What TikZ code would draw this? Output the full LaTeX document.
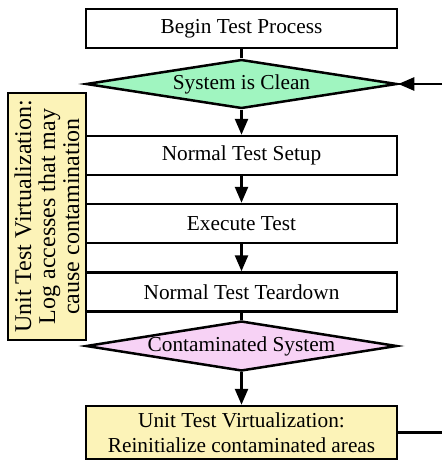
\documentclass[tikz,border=0pt]{standalone}
\usepackage{fontspec}
\setmainfont{Liberation Serif}
\usetikzlibrary{shapes.geometric,arrows.meta}
\definecolor{cleangreen}{HTML}{A0F5C0}
\definecolor{dirtypink}{HTML}{F7D2F5}
\definecolor{virtyellow}{HTML}{FCF3B8}
\tikzset{
  stepbox/.style={draw, line width=2.5pt, minimum width=311pt, minimum height=39pt, inner sep=0pt},
  testdiamond/.style={draw, diamond, line width=2.5pt, aspect=6.3, inner sep=0pt, minimum width=311pt, minimum height=49pt},
  flow/.style={line width=2.5pt, -{Triangle[length=16pt,width=13pt]}},
  plainline/.style={line width=2.5pt},
}
\begin{document}
\begin{tikzpicture}[x=1pt, y=-1pt, font=\fontsize{21.3}{25}\selectfont]
  \useasboundingbox (0,0) rectangle (442,460);
  % main column
  \node[stepbox] (begin) at (241.5,28.5) {Begin Test Process};
  \node[testdiamond, fill=cleangreen] (clean) at (241.5,84) {System is Clean};
  \node[stepbox] (setup) at (241.5,155.5) {Normal Test Setup};
  \node[stepbox] (exec) at (241.5,223.5) {Execute Test};
  \node[stepbox] (teardown) at (241.5,292) {Normal Test Teardown};
  \node[testdiamond, fill=dirtypink, minimum height=50pt] (contam) at (241.5,346) {Contaminated System};
  \node[stepbox, fill=virtyellow, minimum height=53pt, align=center] (reinit) at (241.5,432.5)
    {Unit Test Virtualization:\\Reinitialize contaminated areas};
  % side note
  \node[draw, line width=2.5pt, fill=virtyellow, rotate=90, minimum width=247pt, minimum height=78pt,
    inner sep=0pt, align=center, font=\fontsize{24}{24}\selectfont] (logacc) at (47,216.5)
    {Unit Test Virtualization:\\Log accesses that may\\cause contamination};
  % loop back
  \coordinate (loopin) at (442,84);
  \coordinate (loopout) at (442,432.5);
  \draw[plainline] (begin.south) -- (clean.north);
  \draw[flow] (clean.south) -- (setup.north);
  \draw[flow] (setup.south) -- (exec.north);
  \draw[flow] (exec.south) -- (teardown.north);
  \draw[plainline] (teardown.south) -- (contam.north);
  \draw[flow] (contam.south) -- (reinit.north);
  \draw[plainline] (reinit.east) -- (loopout);
  \draw[flow] (loopin) -- (clean.east);
\end{tikzpicture}
\end{document}
